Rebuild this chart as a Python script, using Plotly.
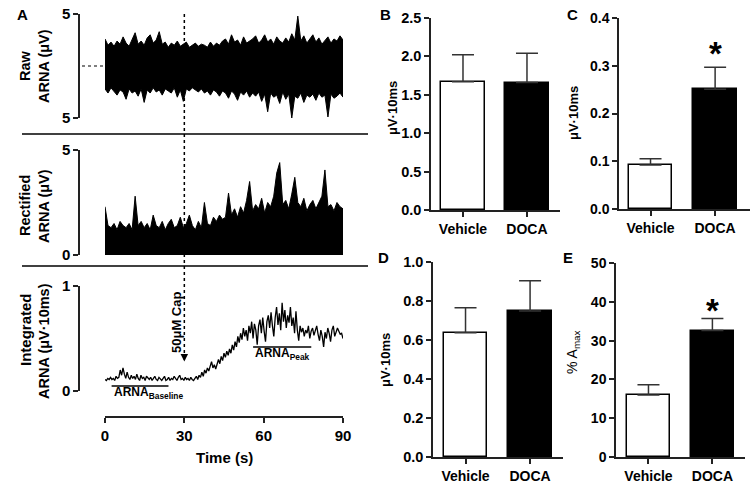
import numpy as np
import plotly.graph_objects as go

W, H = 754, 484
FONT = "Liberation Sans, Arial, sans-serif"

# ---------------- Panel A data ----------------
# Raw ARNA: upper / lower envelope of the dense trace (uV)
raw_hi = [2.6, 2.0, 2.3, 1.9, 2.4, 2.1, 2.8, 2.2, 1.9, 2.5,
          3.2, 2.1, 2.4, 2.0, 2.7, 3.0, 2.2, 2.5, 3.3, 2.1,
          2.3, 1.8, 2.2, 2.0, 2.4, 1.9, 2.1, 2.3, 1.8, 2.0,
          2.2, 1.9, 2.1, 2.0, 1.8, 2.3, 1.9, 2.2, 2.0, 2.4,
          2.6, 2.1, 3.0, 2.3, 2.5, 2.0, 2.8, 2.2, 2.4, 2.6,
          2.9, 2.2, 2.5, 3.0, 2.3, 2.6, 2.1, 2.8, 2.4, 2.2,
          2.7, 2.3, 3.1, 2.5, 4.8, 2.4, 2.9, 2.2, 2.6, 3.0,
          2.3, 2.7, 2.1, 2.5, 2.8, 2.2, 2.6, 2.4, 2.9, 2.5]
raw_lo = [-2.2, -2.6, -2.1, -2.4, -2.8, -2.3, -2.5, -3.2, -2.2, -2.6,
          -2.4, -2.9, -2.2, -3.5, -2.3, -2.6, -2.1, -2.5, -2.3, -2.8,
          -2.2, -2.4, -2.6, -2.1, -3.0, -2.3, -3.4, -2.2, -2.4, -2.1,
          -2.3, -2.5, -2.2, -2.6, -2.4, -2.8, -2.3, -2.5, -2.9, -2.4,
          -2.6, -3.1, -2.4, -2.7, -3.3, -2.5, -2.8, -2.4, -3.0, -2.6,
          -2.9, -2.5, -3.4, -2.7, -4.4, -2.6, -3.0, -2.8, -3.6, -2.5,
          -3.2, -2.7, -5.0, -2.9, -3.1, -2.6, -3.5, -2.8, -3.0, -2.7,
          -3.3, -2.6, -3.0, -2.8, -4.9, -2.7, -3.1, -2.9, -2.6, -3.0]
# Rectified ARNA: upper envelope (uV), lower edge is 0
rect_hi = [2.3, 1.4, 1.3, 1.5, 1.2, 1.6, 1.4, 1.3, 1.5, 1.2,
           2.8, 1.4, 1.6, 1.3, 1.5, 1.2, 1.9, 1.4, 1.3, 1.6,
           1.2, 1.5, 1.7, 1.3, 1.4, 1.8, 1.3, 1.5, 1.9, 1.4,
           1.2, 1.6, 1.3, 2.5, 1.5, 1.4, 1.8, 1.6, 1.9, 1.7,
           1.8, 2.95, 1.9, 2.2, 1.8, 2.3, 2.0, 2.6, 3.5, 2.1,
           2.4, 2.2, 2.7, 2.0, 2.5, 2.3, 2.8, 3.9, 4.4, 2.4,
           2.6, 2.2, 2.9, 3.7, 2.5, 2.3, 2.7, 2.1, 2.4, 2.6,
           2.2, 2.5, 2.8, 4.05, 2.3, 2.4, 2.1, 2.5, 2.3, 2.2]
# Integrated ARNA (uV.10ms), sampled evenly over 0-90 s
integ = [0.11, 0.10, 0.12, 0.11, 0.13, 0.11, 0.12, 0.10, 0.14, 0.12, 0.13, 0.20, 0.15, 0.22, 0.16, 0.12, 0.18, 0.13, 0.11, 0.15, 0.12,
         0.14, 0.11, 0.16, 0.12, 0.10, 0.15, 0.12, 0.13, 0.10, 0.14, 0.12, 0.11, 0.13, 0.10, 0.12, 0.14, 0.11, 0.10, 0.13,
         0.11, 0.10, 0.12, 0.14, 0.10, 0.11, 0.13, 0.10, 0.12, 0.11, 0.14, 0.12, 0.10, 0.13, 0.15, 0.11, 0.12, 0.10, 0.13,
         0.11, 0.12, 0.10, 0.13, 0.11, 0.10, 0.12, 0.14, 0.11, 0.15, 0.13, 0.18, 0.14, 0.20, 0.17, 0.22, 0.19, 0.24, 0.28,
         0.22, 0.25, 0.21, 0.27, 0.30, 0.26, 0.33, 0.29, 0.36, 0.32, 0.38, 0.34, 0.40, 0.36, 0.44, 0.39, 0.47, 0.42, 0.52,
         0.46, 0.55, 0.49, 0.60, 0.52, 0.58, 0.48, 0.62, 0.55, 0.66, 0.50, 0.64, 0.58, 0.44, 0.62, 0.68, 0.55, 0.70, 0.57,
         0.47, 0.66, 0.72, 0.60, 0.75, 0.62, 0.52, 0.70, 0.80, 0.63, 0.74, 0.58, 0.84, 0.66, 0.77, 0.60, 0.72, 0.65, 0.80,
         0.62, 0.70, 0.55, 0.76, 0.58, 0.48, 0.62, 0.56, 0.60, 0.52, 0.58, 0.55, 0.62, 0.50, 0.57, 0.60, 0.53, 0.58, 0.62,
         0.54, 0.48, 0.58, 0.52, 0.42, 0.56, 0.50, 0.60, 0.55, 0.47, 0.58, 0.62, 0.52, 0.56, 0.60, 0.57, 0.54, 0.55, 0.50]
time_ticks = [0, 30, 60, 90]
cap_time = 30
baseline_window = [2.5, 24]
peak_window = [56, 78]

# ---------------- Bar panels data ----------------
cats = ["Vehicle", "DOCA"]
b_mean = [1.67, 1.66]; b_sem = [0.35, 0.38]
c_mean = [0.092, 0.251]; c_sem = [0.013, 0.046]
d_mean = [0.637, 0.749]; d_sem = [0.129, 0.155]
e_mean = [16.0, 32.6]; e_sem = [2.6, 3.1]

def px(v):
    return v / W

def py(v):
    return 1 - v / H

fig = go.Figure()

# raw: dense band drawn between its lower and upper envelope
raw_t = np.linspace(0, 90, len(raw_hi))
fig.add_trace(go.Scatter(x=raw_t, y=raw_lo, mode="lines", line=dict(color="black", width=1),
                         xaxis="x", yaxis="y", hoverinfo="skip"))
fig.add_trace(go.Scatter(x=raw_t, y=raw_hi, mode="lines", line=dict(color="black", width=1),
                         fill="tonexty", fillcolor="black", xaxis="x", yaxis="y", hoverinfo="skip"))
# rectified: band from 0 up to its envelope
rect_t = np.linspace(0, 90, len(rect_hi))
fig.add_trace(go.Scatter(x=rect_t, y=rect_hi, mode="lines", line=dict(color="black", width=1),
                         fill="tozeroy", fillcolor="black", xaxis="x2", yaxis="y2", hoverinfo="skip"))
# integrated
int_t = np.linspace(0, 90, len(integ))
fig.add_trace(go.Scatter(x=int_t, y=integ, mode="lines", line=dict(color="black", width=1.3),
                         xaxis="x3", yaxis="y3", hoverinfo="skip"))

# bars
bar_sets = [(b_mean, b_sem, "x4", "y4"), (c_mean, c_sem, "x5", "y5"),
            (d_mean, d_sem, "x6", "y6"), (e_mean, e_sem, "x7", "y7")]
for mean, sem, xa, ya in bar_sets:
    fig.add_trace(go.Bar(x=cats, y=mean, width=0.68, xaxis=xa, yaxis=ya,
                         marker=dict(color=["white", "black"], line=dict(color="black", width=1.5)),
                         error_y=dict(type="data", symmetric=False, array=sem, arrayminus=[0, 0],
                                      width=11, thickness=1.5, color="#333333"),
                         hoverinfo="skip"))

def axline(size=14):
    return dict(showline=True, linecolor="#222222", linewidth=1.5, ticks="outside", ticklen=5,
                tickwidth=1.5, tickcolor="#222222", showgrid=False, zeroline=False,
                tickfont=dict(family=FONT, size=size, color="black", weight="bold"),
                automargin=False)

lay = dict(width=W, height=H, autosize=False,
           margin=dict(l=0, r=0, t=0, b=0, pad=0, autoexpand=False), showlegend=False,
           plot_bgcolor="rgba(0,0,0,0)", paper_bgcolor="white", bargap=0)

xdom = [px(105), px(343)]
lay["xaxis"] = dict(domain=xdom, range=[0, 90], visible=False, anchor="y", automargin=False)
lay["xaxis2"] = dict(domain=xdom, range=[0, 90], visible=False, anchor="y2", automargin=False)
lay["xaxis3"] = dict(domain=xdom, range=[0, 90], anchor="free", position=py(417),
                     tickvals=time_ticks, **axline(15))
lay["yaxis"] = dict(domain=[py(118), py(14)], range=[-5, 5], anchor="free", position=px(79),
                    tickvals=[-5, 5], ticktext=["5", "5"], **axline(15))
lay["yaxis2"] = dict(domain=[py(255), py(150)], range=[0, 5], anchor="free", position=px(79),
                     tickvals=[0, 5], **axline(15))
lay["yaxis3"] = dict(domain=[py(391), py(286)], range=[0, 1], anchor="free", position=px(79),
                     tickvals=[0, 1], **axline(15))

bar_axes = [
    ("4", [431, 560], [-0.5, 1.516], [210, 18], [0, 2.5], 0.5, ".1f", 14.5),
    ("5", [619, 750], [-0.488, 1.54], [209, 18], [0, 0.4], 0.1, ".1f", 14),
    ("6", [433, 563], [-0.504, 1.51], [457, 262], [0, 1.0], 0.2, ".1f", 14.5),
    ("7", [616, 745], [-0.508, 1.51], [457, 263], [0, 50], 10, "d", 14),
]
for k, xd, xr, yd, yr, dt, fmt, fs in bar_axes:
    lay["xaxis" + k] = dict(domain=[px(xd[0]), px(xd[1])], range=xr, anchor="y" + k,
                            type="category", **axline(14))
    lay["yaxis" + k] = dict(domain=[py(yd[0]), py(yd[1])], range=yr, anchor="x" + k,
                            dtick=dt, tick0=0, tickformat=fmt, **axline(fs))
fig.update_layout(**lay)

ann = []
def txt(x, y, s, size=14, angle=0, bold=True, xanchor="center", yanchor="middle"):
    ann.append(dict(x=px(x), y=py(y), xref="paper", yref="paper", text=s, showarrow=False,
                    textangle=angle, xanchor=xanchor, yanchor=yanchor,
                    font=dict(family=FONT, size=size, color="black",
                              weight="bold" if bold else "normal")))

for letter, x, y in [("A", 22, 14), ("B", 385, 15), ("C", 572, 15), ("D", 383, 257), ("E", 568, 257)]:
    txt(x, y, letter, size=15)

txt(25, 66, "Raw", size=14.5, angle=-90)
txt(44, 66, "ARNA (μV)", size=14.5, angle=-90)
txt(25, 206, "Rectified", size=14.5, angle=-90)
txt(44, 206, "ARNA (μV)", size=14.5, angle=-90)
txt(25, 330, "Integrated", size=15, angle=-90)
txt(44, 341, "ARNA (μV·10ms)", size=14.5, angle=-90)
txt(224, 457, "Time (s)", size=15)
txt(176, 323, "50μM Cap", size=13, angle=-90)
txt(112, 393, "ARNA<sub>Baseline</sub>", size=12, xanchor="left")
txt(253, 354, "ARNA<sub>Peak</sub>", size=12, xanchor="left")

txt(392, 108, "μV·10ms", size=13, angle=-90)
txt(573, 113, "μV·10ms", size=13, angle=-90)
txt(385, 360, "μV·10ms", size=13, angle=-90)
txt(573, 352, "% A<sub>max</sub>", size=14, angle=-90, bold=False)

# significance stars
txt(715, 54, "*", size=33)
txt(712.5, 310, "*", size=33)

# arrow at capsaicin time
ann.append(dict(x=cap_time, y=0.28, xref="x3", yref="y3", text="", showarrow=True,
                ax=0, ay=-9, arrowhead=2, arrowsize=1, arrowwidth=1.5, arrowcolor="black"))

shapes = []
for yy in (134, 266):
    shapes.append(dict(type="line", xref="paper", yref="paper", x0=px(22), x1=px(368), y0=py(yy), y1=py(yy),
                       line=dict(color="black", width=1.5)))
shapes.append(dict(type="line", xref="x3", yref="paper", x0=cap_time, x1=cap_time, y0=py(14), y1=py(354),
                   line=dict(color="black", width=1.5, dash="dot")))
shapes.append(dict(type="line", xref="paper", yref="y", x0=px(82), x1=px(104), y0=0, y1=0,
                   line=dict(color="black", width=1.2, dash="dot")))
shapes.append(dict(type="line", xref="x3", yref="y3", x0=baseline_window[0], x1=baseline_window[1],
                   y0=0.048, y1=0.048, line=dict(color="black", width=1.5)))
shapes.append(dict(type="line", xref="x3", yref="y3", x0=peak_window[0], x1=peak_window[1],
                   y0=0.42, y1=0.42, line=dict(color="black", width=1.5)))

fig.update_layout(annotations=ann, shapes=shapes)
fig.write_html("out.html", config={"displayModeBar": False},
               post_script="document.body.style.margin='0px';")
